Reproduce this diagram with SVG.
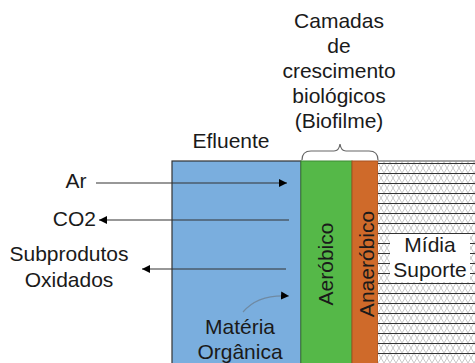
<svg xmlns="http://www.w3.org/2000/svg" width="475" height="363" viewBox="0 0 475 363">
<defs>
<style>
text{font-family:"Liberation Sans",Arial,sans-serif;font-size:21px;fill:#1a1a1a}
.c{text-anchor:middle}
.r{text-anchor:end}
.ln{stroke:#333;stroke-width:1.2;fill:none}
</style>
<marker id="ah" viewBox="0 0 10 10" refX="10" refY="5" markerWidth="8" markerHeight="8" markerUnits="userSpaceOnUse" orient="auto">
<path d="M0,0 L10,5 L0,10 Z" fill="#000"/>
</marker>
<pattern id="hx" x="378" y="163" width="12" height="10" patternUnits="userSpaceOnUse">
<rect width="12" height="10" fill="#fff"/>
<path d="M0,0 L6,10 L12,0 M0,10 L6,0 L12,10" stroke="#c8c8c8" stroke-width="1" fill="none"/>
<line x1="0" y1="0.5" x2="12" y2="0.5" stroke="#333" stroke-width="1"/>
</pattern>
</defs>
<rect width="475" height="363" fill="#fff"/>

<g id="title">
<text class="c" x="339" y="28">Camadas</text>
<text class="c" x="339" y="53">de</text>
<text class="c" x="339" y="78">crescimento</text>
<text class="c" x="339" y="103">biológicos</text>
<text class="c" x="339" y="128">(Biofilme)</text>
</g>

<g id="efluente">
<rect x="172" y="161" width="129" height="210" fill="#7aaede" stroke="#333" stroke-width="1.2"/>
<text class="c" x="231" y="148">Efluente</text>
<text class="c" x="240" y="334">Matéria</text>
<text class="c" x="240" y="359">Orgânica</text>
</g>

<g id="aerobico">
<rect x="301" y="161" width="51" height="210" fill="#55b848" stroke="#3f8a35" stroke-width="1"/>
<text class="c" transform="translate(333,264) rotate(-90)">Aeróbico</text>
</g>

<g id="anaerobico">
<rect x="352" y="161" width="26" height="210" fill="#cf6a2a" stroke="#a65020" stroke-width="1"/>
<text class="c" transform="translate(374,264) rotate(-90)">Anaeróbico</text>
</g>

<g id="midia">
<rect x="378" y="161" width="100" height="210" fill="url(#hx)"/>
<line x1="378" y1="161" x2="475" y2="161" stroke="#888" stroke-width="1.5"/>
<rect x="390" y="234" width="80" height="48" fill="#fff"/>
<text class="c" x="430" y="252">Mídia</text>
<text class="c" x="430" y="277">Suporte</text>
</g>

<g id="brace">
<path d="M302,160 Q302,151 311,151 L334,151 Q339,151 340,144 Q341,151 346,151 L369,151 Q378,151 378,160" stroke="#666" stroke-width="1.2" fill="none"/>
</g>

<g id="labels">
<text class="c" x="76" y="188">Ar</text>
<text class="r" x="96" y="226">CO2</text>
<text class="c" x="69" y="261">Subprodutos</text>
<text class="c" x="69" y="287">Oxidados</text>
</g>

<g id="connectors">
<line class="ln" x1="96" y1="183" x2="287" y2="183" marker-end="url(#ah)"/>
<line class="ln" x1="289" y1="220" x2="99" y2="220" marker-end="url(#ah)"/>
<line class="ln" x1="286" y1="269" x2="142" y2="269" marker-end="url(#ah)"/>
<path d="M243,312 Q258,294 289,296" stroke="#6f8aa3" stroke-width="1.2" fill="none" marker-end="url(#ah)"/>
</g>
</svg>
